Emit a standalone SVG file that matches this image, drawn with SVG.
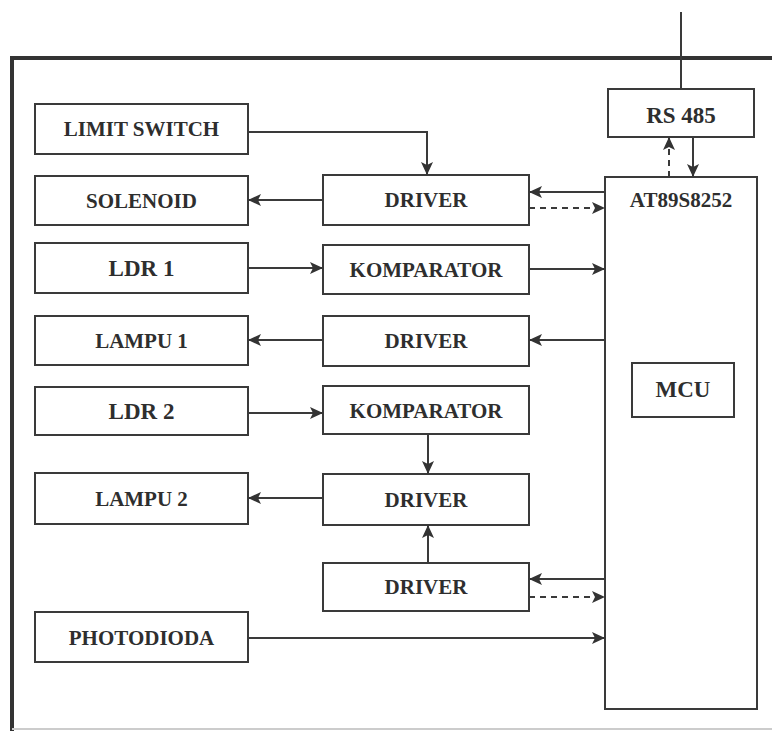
<svg xmlns="http://www.w3.org/2000/svg" width="772" height="731" viewBox="0 0 772 731">
<defs>
<style>
.box{fill:#fff;stroke:#3a3a3a;stroke-width:2}
.t{font-family:"Liberation Serif","Times New Roman",serif;font-weight:bold;font-size:21px;fill:#2e2e2e;text-anchor:middle}
.tl{font-size:23px}
.c{fill:none;stroke:#3a3a3a;stroke-width:2}
.d{fill:none;stroke:#3a3a3a;stroke-width:2;stroke-dasharray:6 5}
</style>
<marker id="ah" markerUnits="userSpaceOnUse" markerWidth="14" markerHeight="12" refX="13" refY="6" orient="auto">
<path d="M0,0 L13,6 L0,12 L3,6 Z" fill="#333"/>
</marker>
</defs>
<rect width="772" height="731" fill="#fff"/>
<g id="frame">
<path d="M12,731 L12,58 L772,58" fill="none" stroke="#333" stroke-width="4"/>
<line x1="12" y1="729" x2="772" y2="729" stroke="#ccc" stroke-width="2"/>
</g>
<g id="limit-switch"><rect class="box" x="35" y="104" width="213" height="50"/><text class="t" x="141.5" y="136">LIMIT SWITCH</text></g>
<g id="solenoid"><rect class="box" x="35" y="176" width="213" height="49"/><text class="t" x="141.5" y="208">SOLENOID</text></g>
<g id="ldr1"><rect class="box" x="35" y="243" width="213" height="50"/><text class="t tl" x="141.5" y="276">LDR 1</text></g>
<g id="lampu1"><rect class="box" x="35" y="316" width="213" height="49"/><text class="t" x="141.5" y="348">LAMPU 1</text></g>
<g id="ldr2"><rect class="box" x="35" y="387" width="213" height="48"/><text class="t tl" x="141.5" y="419">LDR 2</text></g>
<g id="lampu2"><rect class="box" x="35" y="473" width="213" height="51"/><text class="t" x="141.5" y="506">LAMPU 2</text></g>
<g id="photodioda"><rect class="box" x="35" y="612" width="213" height="50"/><text class="t" x="141.5" y="645">PHOTODIODA</text></g>
<g id="driver1"><rect class="box" x="323" y="175" width="206" height="50"/><text class="t" x="426" y="207">DRIVER</text></g>
<g id="komparator1"><rect class="box" x="323" y="245" width="206" height="49"/><text class="t" x="426" y="277">KOMPARATOR</text></g>
<g id="driver2"><rect class="box" x="323" y="316" width="206" height="50"/><text class="t" x="426" y="348">DRIVER</text></g>
<g id="komparator2"><rect class="box" x="323" y="386" width="206" height="48"/><text class="t" x="426" y="418">KOMPARATOR</text></g>
<g id="driver3"><rect class="box" x="323" y="474" width="206" height="51"/><text class="t" x="426" y="507">DRIVER</text></g>
<g id="driver4"><rect class="box" x="323" y="563" width="206" height="48"/><text class="t" x="426" y="594">DRIVER</text></g>
<g id="rs485"><rect class="box" x="608" y="89" width="146" height="48"/><text class="t tl" x="681" y="123">RS 485</text></g>
<g id="at89s8252"><rect class="box" x="605" y="177" width="152" height="532"/><text class="t" x="681" y="207">AT89S8252</text></g>
<g id="mcu"><rect class="box" x="632" y="363" width="102" height="54"/><text class="t tl" x="683" y="397">MCU</text></g>
<g id="connectors">
<line class="c" x1="681" y1="12" x2="681" y2="89"/>
<line class="c" x1="693" y1="137" x2="693" y2="177" marker-end="url(#ah)"/>
<line class="d" x1="669" y1="177" x2="669" y2="137" marker-end="url(#ah)"/>
<path class="c" d="M248,132 L427,132 L427,175" marker-end="url(#ah)"/>
<line class="c" x1="323" y1="200" x2="248" y2="200" marker-end="url(#ah)"/>
<line class="c" x1="605" y1="192" x2="529" y2="192" marker-end="url(#ah)"/>
<line class="d" x1="529" y1="208" x2="605" y2="208" marker-end="url(#ah)"/>
<line class="c" x1="248" y1="268" x2="323" y2="268" marker-end="url(#ah)"/>
<line class="c" x1="529" y1="269" x2="605" y2="269" marker-end="url(#ah)"/>
<line class="c" x1="605" y1="340" x2="529" y2="340" marker-end="url(#ah)"/>
<line class="c" x1="323" y1="340" x2="248" y2="340" marker-end="url(#ah)"/>
<line class="c" x1="248" y1="413" x2="323" y2="413" marker-end="url(#ah)"/>
<line class="c" x1="428" y1="434" x2="428" y2="474" marker-end="url(#ah)"/>
<line class="c" x1="323" y1="498" x2="248" y2="498" marker-end="url(#ah)"/>
<line class="c" x1="428" y1="563" x2="428" y2="525" marker-end="url(#ah)"/>
<line class="c" x1="605" y1="579" x2="529" y2="579" marker-end="url(#ah)"/>
<line class="d" x1="529" y1="597" x2="605" y2="597" marker-end="url(#ah)"/>
<line class="c" x1="248" y1="638" x2="605" y2="638" marker-end="url(#ah)"/>
</g>
</svg>
